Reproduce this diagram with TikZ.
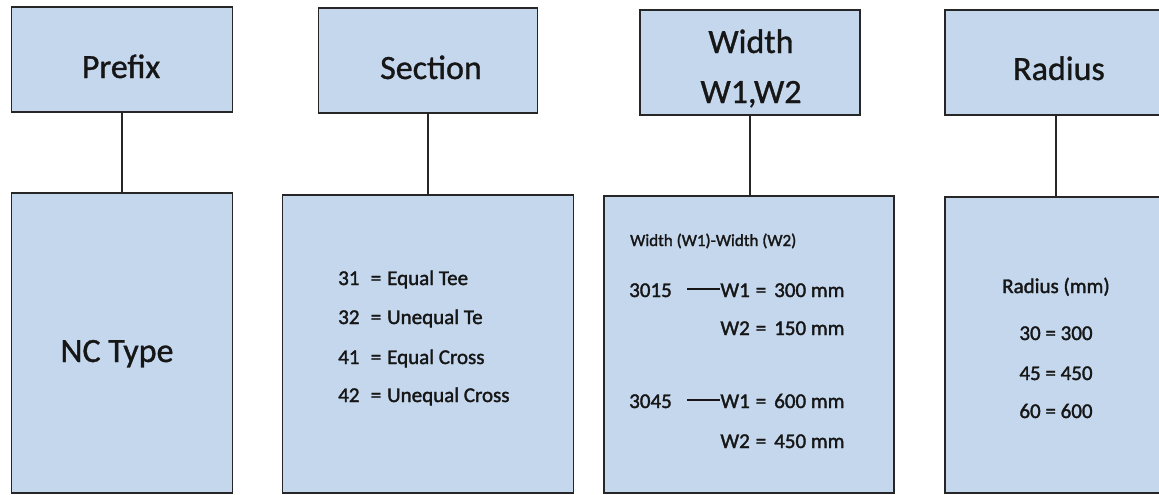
\documentclass[tikz,border=0pt]{standalone}
\usepackage{fontspec}
\setmainfont{Carlito}
\newfontfamily\medfont{Carlito}[FakeBold=1.6]
\newfontfamily\titfont{Carlito}[FakeBold=1.0]
\definecolor{boxfill}{RGB}{196,215,237}
\definecolor{boxline}{RGB}{38,38,38}
\definecolor{txt}{RGB}{22,22,22}
\begin{document}
\begin{tikzpicture}[x=1pt,y=-1pt,
  box/.style={draw=boxline, fill=boxfill, line width=1.9pt, inner sep=0pt},
  conn/.style={draw=boxline, line width=2pt},
  title/.style={anchor=base, inner sep=0pt, text=txt, font=\titfont\fontsize{34}{50}\selectfont},
  body/.style={anchor=base west, inner sep=0pt, text=txt, font=\medfont\fontsize{21}{25}\selectfont},
  bodyc/.style={anchor=base, inner sep=0pt, text=txt, font=\medfont\fontsize{21}{25}\selectfont},
  bodye/.style={anchor=base east, inner sep=0pt, text=txt, font=\medfont\fontsize{21}{25}\selectfont},
  small/.style={anchor=base west, inner sep=0pt, text=txt, font=\medfont\fontsize{17}{20}\selectfont}]
\useasboundingbox (0,0) rectangle (1159,495);
\clip (0,0) rectangle (1159,495);
\fill[white] (0,0) rectangle (1159,495);
% boxes
\node[box, minimum width=221pt, minimum height=105pt] (t1) at (122,59.5) {};
\node[box, minimum width=221pt, minimum height=300pt] (b1) at (122,343) {};
\node[box, minimum width=219pt, minimum height=105pt] (t2) at (428,60.5) {};
\node[box, minimum width=291pt, minimum height=298pt] (b2) at (428,344) {};
\node[box, minimum width=220pt, minimum height=105pt] (t3) at (750,62.5) {};
\node[box, minimum width=290pt, minimum height=297pt] (b3) at (749,344.5) {};
\node[box, minimum width=222pt, minimum height=105pt] (t4) at (1056,62.5) {};
\node[box, minimum width=222pt, minimum height=296pt] (b4) at (1056,345) {};
% connectors
\draw[conn] (t1.south) -- (t1.south |- b1.north);
\draw[conn] (t2.south) -- (t2.south |- b2.north);
\draw[conn] (t3.south) -- (t3.south |- b3.north);
\draw[conn] (t4.south) -- (t4.south |- b4.north);
% titles
\node[title] (l1) at (121,78) {Prefix};
\node[title] (l2) at (431,79) {Section};
\node[title] (l3a) at (751,53) {Width};
\node[title] (l3b) at (751,103) {W1,W2};
\node[title] (l4) at (1059,80) {Radius};
% prefix body
\node[title] (nc) at (117,362) {NC Type};
% section body
\node[body] (s1a) at (338,285) {31};
\node[bodyc] (s1b) at (376,285) {=};
\node[body] (s1c) at (387,285) {Equal Tee};
\node[body] (s2a) at (338,324) {32};
\node[bodyc] (s2b) at (376,324) {=};
\node[body] (s2c) at (387,324) {Unequal Te};
\node[body] (s3a) at (338,364) {41};
\node[bodyc] (s3b) at (376,364) {=};
\node[body] (s3c) at (387,364) {Equal Cross};
\node[body] (s4a) at (338,402) {42};
\node[bodyc] (s4b) at (376,402) {=};
\node[body] (s4c) at (387,402) {Unequal Cross};
% width body
\node[small] (wh) at (630,246) {Width (W1)-Width (W2)};
\node[body] (w1a) at (629,297) {3015};
\node[bodye] (w1b) at (750,297) {W1};
\node[bodyc] (w1c) at (761,297) {=};
\node[body] (w1d) at (774,297) {300 mm};
\coordinate (d1s) at (687,289);
\draw[draw=txt, line width=1.4pt] (d1s) -- (d1s -| w1b.west);
\node[bodye] (w2b) at (750,335) {W2};
\node[bodyc] (w2c) at (761,335) {=};
\node[body] (w2d) at (774,335) {150 mm};
\node[body] (w3a) at (629,408) {3045};
\node[bodye] (w3b) at (750,408) {W1};
\node[bodyc] (w3c) at (761,408) {=};
\node[body] (w3d) at (774,408) {600 mm};
\coordinate (d2s) at (687,400);
\draw[draw=txt, line width=1.4pt] (d2s) -- (d2s -| w3b.west);
\node[bodye] (w4b) at (750,448) {W2};
\node[bodyc] (w4c) at (761,448) {=};
\node[body] (w4d) at (774,448) {450 mm};
% radius body
\node[bodyc] (r0) at (1056,293) {Radius (mm)};
\node[bodyc] (r1) at (1056,340) {30 = 300};
\node[bodyc] (r2) at (1056,380) {45 = 450};
\node[bodyc] (r3) at (1056,418) {60 = 600};
\end{tikzpicture}
\end{document}
